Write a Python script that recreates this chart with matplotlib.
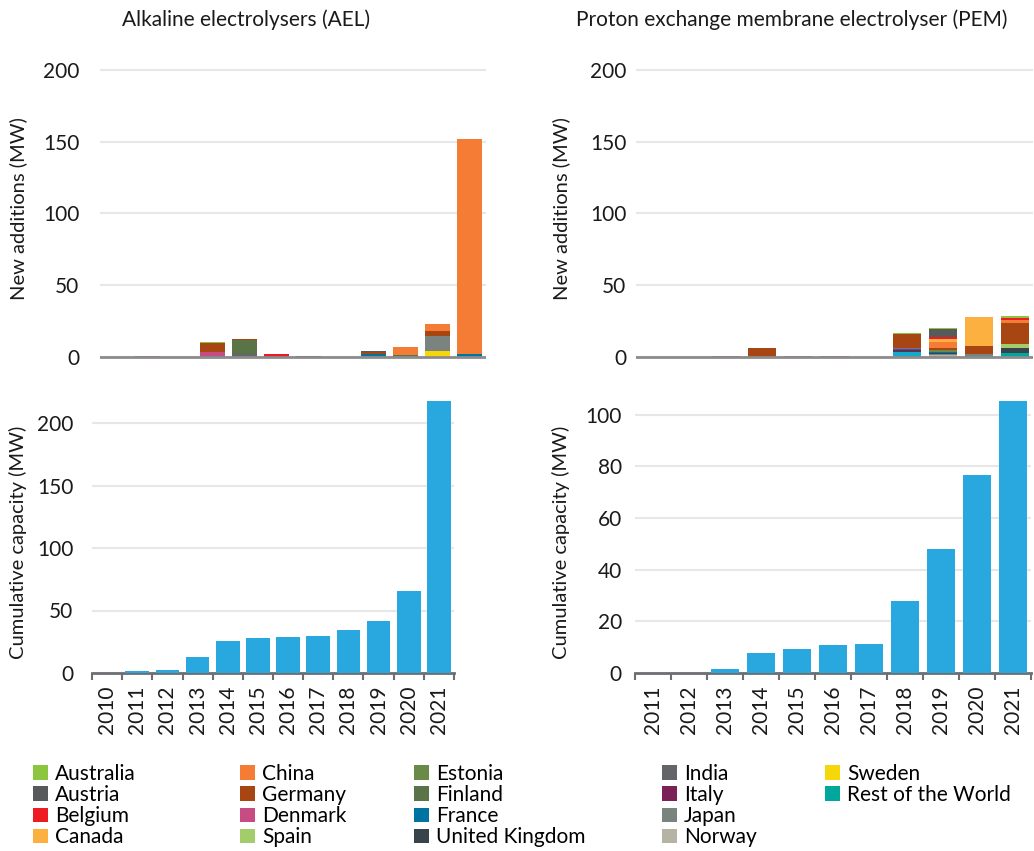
import numpy as np
import matplotlib.pyplot as plt
from matplotlib.patches import Patch
from matplotlib.ticker import FixedLocator

plt.rcParams['font.family'] = ['Lato', 'DejaVu Sans']

ael_years = ['2010', '2011', '2012', '2013', '2014', '2015', '2016', '2017', '2018', '2019', '2020', '2021']
pem_years = ['2011', '2012', '2013', '2014', '2015', '2016', '2017', '2018', '2019', '2020', '2021']

countries = ['Australia', 'Austria', 'Belgium', 'Canada', 'China', 'Germany', 'Denmark', 'Spain',
             'Estonia', 'Finland', 'France', 'United Kingdom', 'India', 'Italy', 'Japan', 'Norway',
             'Sweden', 'Rest of the World']
colors = ['#8CC63F', '#58595B', '#ED1C24', '#FBB040', '#F47C34', '#A84613', '#C84B84', '#A2CD6A',
          '#6A8A48', '#5B7447', '#0073A0', '#37444B', '#646569', '#7A2158', '#7A837D', '#B5B3A4',
          '#F5D70A', '#00A79D']

# new additions per country (MW), only non-zero years given
ael_new = {
    'Australia': {'2013': 0.8},
    'Austria': {'2018': 0.7},
    'Belgium': {'2015': 1.6},
    'Canada': {'2019': 0.5},
    'China': {'2019': 5.4, '2020': 4.9, '2021': 150.3},
    'Germany': {'2011': 0.6, '2013': 5.8, '2014': 0.5, '2017': -0.7, '2018': 2.0, '2020': 3.3},
    'Denmark': {'2013': 3.0, '2020': 0.4},
    'Estonia': {'2015': -0.4},
    'Finland': {'2014': 9.8, '2019': 0.7},
    'France': {'2018': 1.0, '2021': 1.8},
    'United Kingdom': {'2012': -1.0, '2018': -0.5, '2019': -0.4},
    'India': {'2013': 0.5, '2014': 1.9},
    'Italy': {'2010': -0.6, '2016': 0.7},
    'Japan': {'2020': 10.3},
    'Sweden': {'2020': 4.0},
    'Rest of the World': {'2018': 0.6, '2019': 0.4},
}
pem_new = {
    'Australia': {'2018': 0.7, '2019': 0.9, '2021': 1.4},
    'Austria': {'2012': -0.6, '2016': -0.4, '2019': 5.4},
    'Belgium': {'2019': 1.4, '2021': 1.4},
    'Canada': {'2019': 2.1, '2020': 20.3},
    'China': {'2019': 4.4, '2021': 2.1},
    'Germany': {'2013': 0.6, '2014': 6.0, '2015': 0.7, '2016': 0.6, '2018': 9.8, '2019': 1.2,
                '2020': 5.4, '2021': 14.7},
    'Denmark': {'2018': 1.2},
    'Spain': {'2021': 2.8},
    'Estonia': {'2019': 1.2},
    'France': {'2017': -0.7, '2018': 0.4, '2019': 0.6},
    'United Kingdom': {'2018': 0.7, '2019': 0.7, '2020': 0.4, '2021': 3.5},
    'India': {'2011': -0.3},
    'Italy': {'2018': 0.7},
    'Japan': {'2019': 1.2, '2020': 1.0},
    'Norway': {'2019': 1.0},
    'Rest of the World': {'2020': 0.6, '2021': 2.8},
}
# a cyan segment in PEM 2018 that has no legend entry
pem_unlisted = {'2018': 3.3}

ael_cum = [0, 1.6, 2.4, 12.8, 25.6, 28.0, 28.8, 29.6, 34.7, 41.9, 65.6, 217.6]
pem_cum = [0, 0.1, 1.4, 7.6, 9.2, 10.7, 11.1, 27.8, 48.2, 76.6, 105.3]

W, H = 1034, 851
fig = plt.figure(figsize=(W / 100, H / 100), dpi=100)

def px(l, t, r, b):
    return [l / W, 1 - b / H, (r - l) / W, (b - t) / H]

ax_tl = fig.add_axes(px(99.5, 63, 486, 361.7))
ax_tr = fig.add_axes(px(636, 63, 1033, 361.7))
ax_bl = fig.add_axes(px(92, 400.5, 454, 673))
ax_br = fig.add_axes(px(635, 400.5, 1031, 673))

grid_c = '#E6E7E9'
bar_w = 0.78

def stacked(ax, years, data, extra):
    x = np.arange(len(years))
    pos = np.zeros(len(years))
    neg = np.zeros(len(years))
    series = [(c, col, data.get(c, {})) for c, col in zip(countries, colors)]
    # bottom of stack is the end of the legend list
    order = [('unlisted', '#14A9CB', extra)] + series[::-1]
    for name, col, vals in order:
        v = np.array([vals.get(y, 0.0) for y in years])
        if not v.any():
            continue
        p = np.where(v > 0, v, 0)
        n = np.where(v < 0, v, 0)
        ax.bar(x, p, bar_w, bottom=pos, color=col, linewidth=0, zorder=3)
        ax.bar(x, n, bar_w, bottom=neg, color=col, linewidth=0, zorder=3)
        pos += p
        neg += n
    ax.set_xlim(-0.5, len(years) - 0.5)
    ax.set_ylim(-3.5, 205)
    ax.set_yticks([0, 50, 100, 150, 200])
    ax.set_xticks([])
    for s in ax.spines.values():
        s.set_visible(False)
    ax.grid(axis='y', color=grid_c, linewidth=1.5, zorder=0)
    ax.axhline(0, color='#8C8C8C', linewidth=2, zorder=4)
    ax.tick_params(axis='y', length=0, labelsize=15, colors='#1A1A1A')

def cumulative(ax, years, vals, top, ticks):
    x = np.arange(len(years))
    ax.bar(x, vals, bar_w, color='#29A8E0', linewidth=0, zorder=3)
    ax.set_xlim(-0.5, len(years) - 0.5)
    ax.set_ylim(0, top)
    ax.set_yticks(ticks)
    ax.set_xticks(x)
    ax.set_xticklabels(years, rotation=90, fontsize=15)
    ax.xaxis.set_minor_locator(FixedLocator(np.arange(len(years) + 1) - 0.5))
    ax.tick_params(axis='x', which='major', length=0, pad=9, colors='#1A1A1A')
    ax.tick_params(axis='x', which='minor', length=5, width=1.5, color='#6D6E71')
    ax.tick_params(axis='y', length=0, labelsize=15, colors='#1A1A1A')
    for s in ['top', 'right', 'left']:
        ax.spines[s].set_visible(False)
    ax.spines['bottom'].set_color('#6D6E71')
    ax.spines['bottom'].set_linewidth(2)
    ax.grid(axis='y', color=grid_c, linewidth=1.5, zorder=0)

stacked(ax_tl, ael_years, ael_new, {})
stacked(ax_tr, pem_years, pem_new, pem_unlisted)
cumulative(ax_bl, ael_years, ael_cum, 218, [0, 50, 100, 150, 200])
cumulative(ax_br, pem_years, pem_cum, 105.5, [0, 20, 40, 60, 80, 100])

ax_tl.tick_params(axis='y', pad=14.5)
ax_bl.tick_params(axis='y', pad=13.5)
ax_tr.tick_params(axis='y', pad=7)
ax_br.tick_params(axis='y', pad=9.5)

fig.text(246 / W, 1 - 20 / H, 'Alkaline electrolysers (AEL)', ha='center', va='center', fontsize=15, color='#1A1A1A')
fig.text(792 / W, 1 - 20 / H, 'Proton exchange membrane electrolyser (PEM)', ha='center', va='center', fontsize=15, color='#1A1A1A')
fig.text(18 / W, 1 - 209 / H, 'New additions (MW)', rotation=90, ha='center', va='center', fontsize=14.5, color='#1A1A1A')
fig.text(561 / W, 1 - 209 / H, 'New additions (MW)', rotation=90, ha='center', va='center', fontsize=14.5, color='#1A1A1A')
fig.text(18 / W, 1 - 542 / H, 'Cumulative capacity (MW)', rotation=90, ha='center', va='center', fontsize=14.5, color='#1A1A1A')
fig.text(561 / W, 1 - 542 / H, 'Cumulative capacity (MW)', rotation=90, ha='center', va='center', fontsize=14.5, color='#1A1A1A')

# legend: five columns, filled top to bottom
col_x = [33, 240, 414, 662, 825]
for i, cx in enumerate(col_x):
    names = countries[i * 4:(i + 1) * 4]
    cols = colors[i * 4:(i + 1) * 4]
    handles = [Patch(facecolor=c, edgecolor='none', label=n) for n, c in zip(names, cols)]
    fig.legend(handles=handles, loc='upper left', bbox_to_anchor=(cx / W, 1 - 764 / H),
               frameon=False, fontsize=15, handlelength=0.7, handleheight=0.7,
               handletextpad=0.35, labelspacing=0.05, borderpad=0, borderaxespad=0)

fig.savefig('out.png', dpi=100)
